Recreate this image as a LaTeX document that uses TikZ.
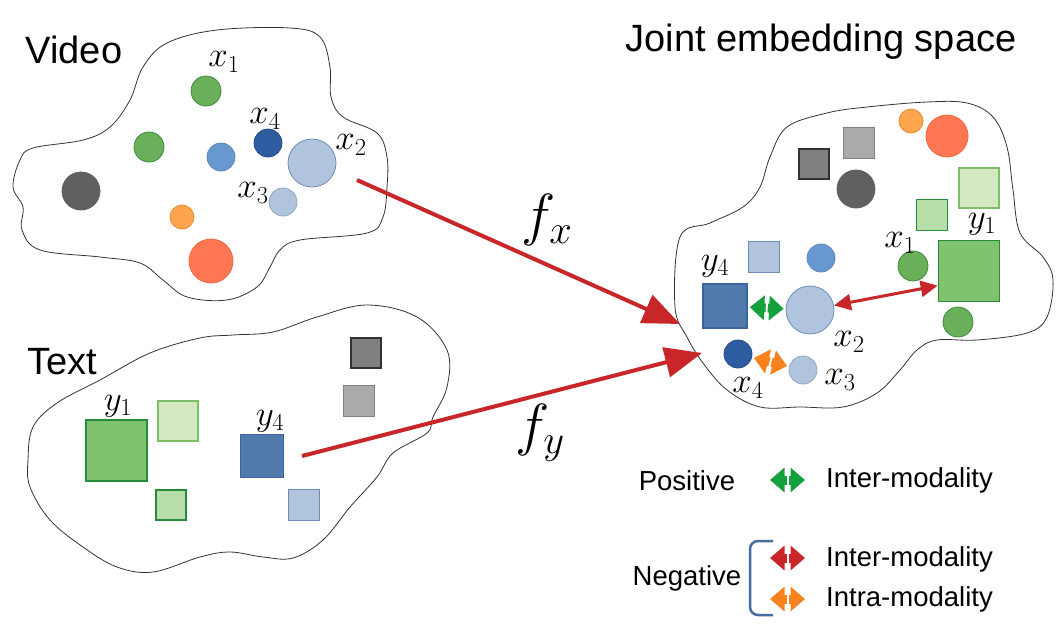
\RequirePackage{fix-cm}
\documentclass[tikz,border=0pt]{standalone}
\usepackage{fontspec}
\setmainfont{Liberation Sans}
\usetikzlibrary{arrows.meta}
\definecolor{grnC}{RGB}{106,176,90}
\definecolor{grnCd}{RGB}{60,140,60}
\definecolor{grnSq}{RGB}{128,194,110}
\definecolor{grnSqd}{RGB}{36,140,60}
\definecolor{grnPale}{RGB}{212,232,196}
\definecolor{grnPaled}{RGB}{125,190,105}
\definecolor{grnLt}{RGB}{183,222,168}
\definecolor{bluM}{RGB}{104,152,208}
\definecolor{bluD}{RGB}{45,92,160}
\definecolor{bluL}{RGB}{176,196,222}
\definecolor{bluLd}{RGB}{110,140,185}
\definecolor{bluSq}{RGB}{80,122,172}
\definecolor{bluSqd}{RGB}{60,100,160}
\definecolor{gryD}{RGB}{96,96,96}
\definecolor{gryM}{RGB}{128,128,128}
\definecolor{gryL}{RGB}{170,170,170}
\definecolor{gryK}{RGB}{50,50,50}
\definecolor{orgS}{RGB}{255,165,80}
\definecolor{orgSd}{RGB}{230,140,50}
\definecolor{orgL}{RGB}{255,118,82}
\definecolor{orgLd}{RGB}{240,105,70}
\definecolor{arrred}{RGB}{200,38,40}
\definecolor{arrgrn}{RGB}{20,160,60}
\definecolor{arrorg}{RGB}{250,130,30}
\definecolor{brk}{RGB}{70,110,160}
\tikzset{
  dot/.style={circle, draw, inner sep=0pt, line width=0.8pt},
  box/.style={rectangle, draw, inner sep=0pt, line width=1.6pt},
  lab/.style={font=\fontsize{35}{40}\selectfont, inner sep=0pt},
  title/.style={font=\fontsize{38}{44}\selectfont, inner sep=0pt},
  leg/.style={font=\fontsize{27.5}{32}\selectfont, inner sep=0pt},
  blob/.style={draw=black!80, line width=0.8pt},
  maparrow/.style={-{Triangle[length=37pt,width=30pt]}, line width=4pt, draw=arrred},
  pairarrow/.style={{Triangle[length=14.5pt,width=24pt]}-{Triangle[length=14.5pt,width=24pt]}, line width=9pt},
  cut/.style={fill=white, inner sep=0pt, minimum width=2pt, minimum height=28pt, sloped},
}
\begin{document}
\begin{tikzpicture}[x=1pt, y=-1pt]
\useasboundingbox (0,0) rectangle (1058,635);
% spaces
\draw[blob] plot[smooth cycle, tension=0.6] coordinates {(13,187) (20,160) (33,148) (83,140) (110,127) (130,100) (143,67) (167,43) (217,30) (290,28) (320,37) (330,67) (331,97) (343,117) (377,133) (387,157) (387,187) (383,217) (367,233) (300,240) (280,250) (270,267) (257,287) (227,300) (187,297) (163,280) (140,263) (100,257) (40,250) (22,230) (23,207)};
\draw[blob] plot[smooth cycle, tension=0.6] coordinates {(28,460) (33,427) (57,403) (100,380) (150,353) (200,338) (233,335) (273,332) (317,317) (367,305) (417,317) (447,350) (447,387) (433,417) (427,433) (393,453) (377,477) (350,507) (323,540) (293,558) (263,557) (230,552) (200,557) (153,572) (117,567) (83,547) (50,520) (30,487)};
\draw[blob] plot[smooth cycle, tension=0.6] coordinates {(680,237) (710,223) (743,207) (760,187) (770,157) (787,127) (827,113) (867,107) (927,102) (967,103) (993,117) (1007,147) (1013,190) (1020,233) (1043,257) (1053,280) (1047,317) (1027,333) (977,340) (937,340) (917,350) (900,370) (877,393) (843,407) (800,407) (760,407) (727,390) (703,363) (687,337) (675,307)};
% titles
\node[title] (vid) at (74,50) {Video};
\node[title] (txt) at (62,362) {Text};
\node[title] (jes) at (821,42) {Joint embedding space};
% video points
\node[dot, fill=grnC, draw=grnCd, minimum size=30pt] (vx1) at (206,91) {};
\node[dot, fill=grnC, draw=grnCd, minimum size=30pt] (vg) at (149,147) {};
\node[dot, fill=bluM, draw=bluM!90!black, minimum size=28pt] (vb) at (221,157) {};
\node[dot, fill=bluD, draw=bluD!85!black, minimum size=28pt] (vx4) at (268,143) {};
\node[dot, fill=bluL, draw=bluLd, minimum size=48pt] (vx2) at (312,163) {};
\node[dot, fill=bluL, draw=bluL!85!black, minimum size=28pt] (vx3) at (283,202) {};
\node[dot, fill=gryD, draw=gryD, minimum size=38pt] (vk) at (81,191) {};
\node[dot, fill=orgS, draw=orgSd, minimum size=24pt] (vo) at (182,217) {};
\node[dot, fill=orgL, draw=orgLd, minimum size=44pt] (vr) at (211,261) {};
\node[lab] at (224,62) {$x_1$};
\node[lab] at (265,119) {$x_4$};
\node[lab] at (351,145) {$x_2$};
\node[lab] at (253,193) {$x_3$};
% text points
\node[box, fill=grnSq, draw=grnSqd, minimum size=61pt] (ty1) at (116.5,450.5) {};
\node[box, fill=grnPale, draw=grnPaled, minimum size=40pt] (tp) at (178,421) {};
\node[box, fill=grnLt, draw=grnSqd, minimum size=30pt] (tg) at (171,505) {};
\node[box, fill=bluSq, draw=bluSqd, minimum size=43pt] (ty4) at (262,456) {};
\node[box, fill=bluL, draw=bluLd, minimum size=31pt] (tb) at (304,505) {};
\node[box, fill=gryM, draw=gryK, minimum size=30pt] (tk) at (366,353) {};
\node[box, fill=gryL, draw=gryM, minimum size=31pt] (tl) at (359,401) {};
\node[lab] at (118,406) {$y_1$};
\node[lab] at (270,421) {$y_4$};
% joint space points
\node[dot, fill=orgS, draw=orgSd, minimum size=24pt] (jo) at (911,121) {};
\node[dot, fill=orgL, draw=orgLd, minimum size=42pt] (jr) at (947,136) {};
\node[box, fill=gryL, draw=gryM, minimum size=31pt] (jl) at (859,143) {};
\node[box, fill=gryM, draw=gryK, minimum size=30pt] (jk) at (814,164) {};
\node[dot, fill=gryD, draw=gryD, minimum size=38pt] (jd) at (856,189) {};
\node[box, fill=grnPale, draw=grnPaled, minimum size=40pt] (jp) at (979,188) {};
\node[box, fill=grnLt, draw=grnSqd, minimum size=31pt] (jg) at (932,215) {};
\node[box, fill=grnSq, draw=grnSqd, minimum size=61pt] (jy1) at (969,271) {};
\node[dot, fill=grnC, draw=grnCd, minimum size=30pt] (jx1) at (913,266) {};
\node[dot, fill=grnC, draw=grnCd, minimum size=30pt] (jg2) at (958,322) {};
\node[box, fill=bluL, draw=bluLd, minimum size=31pt] (jb) at (764,257) {};
\node[dot, fill=bluM, draw=bluM!90!black, minimum size=28pt] (jbc) at (821,258) {};
\node[box, fill=bluSq, draw=bluSqd, minimum size=44pt] (jy4) at (725,306) {};
\node[dot, fill=bluL, draw=bluLd, minimum size=48pt] (jx2) at (810,310) {};
\node[dot, fill=bluD, draw=bluD!85!black, minimum size=28pt] (jx4) at (738,354) {};
\node[dot, fill=bluL, draw=bluL!85!black, minimum size=28pt] (jx3) at (803,370) {};
\node[lab] at (715,266) {$y_4$};
\node[lab] at (982,224) {$y_1$};
\node[lab] at (900,243) {$x_1$};
\node[lab] at (849,342) {$x_2$};
\node[lab] at (748,388) {$x_4$};
\node[lab] at (840,380) {$x_3$};
% mappings
\coordinate (fxs) at (357,180);
\coordinate (fxe) at (680,324);
\coordinate (fys) at (302,456);
\coordinate (fye) at (702,353);
\draw[maparrow] (fxs) -- (fxe);
\draw[maparrow] (fys) -- (fye);
\node[font=\fontsize{58}{64}\selectfont, inner sep=0pt] (fx) at (547,220) {$f_x$};
\node[font=\fontsize{58}{64}\selectfont, inner sep=0pt] (fy) at (540,433) {$f_y$};
% pairs
\draw[pairarrow, draw=arrgrn, shorten <=2pt, shorten >=2pt] (jy4) -- node[cut]{} (jx2);
\draw[pairarrow, draw=arrorg, shorten <=2pt, shorten >=2pt] (jx4) -- node[cut]{} (jx3);
\draw[{Triangle[length=17pt,width=16pt]}-{Triangle[length=17pt,width=16pt]}, line width=3pt, draw=arrred] (jx2) -- (jy1.205);
% legend
\node[leg] (pos) at (687,481) {Positive};
\node[leg] (neg) at (687,578) {Negative};
\node[leg, anchor=west] (li1) at (826,480) {Inter-modality};
\node[leg, anchor=west] (li2) at (826,559) {Inter-modality};
\node[leg, anchor=west] (li3) at (826,599) {Intra-modality};
\coordinate (la1) at (770,480); \coordinate (lb1) at (805,480);
\coordinate (la2) at (770,558); \coordinate (lb2) at (805,558);
\coordinate (la3) at (770,599); \coordinate (lb3) at (805,599);
\draw[pairarrow, draw=arrgrn] (la1) -- node[cut]{} (lb1);
\draw[pairarrow, draw=arrred] (la2) -- node[cut]{} (lb2);
\draw[pairarrow, draw=arrorg] (la3) -- node[cut]{} (lb3);
\draw[draw=brk, line width=2.5pt, rounded corners=8pt] (773,541) -- (750,541) -- (750,615) -- (773,615);
\end{tikzpicture}
\end{document}
